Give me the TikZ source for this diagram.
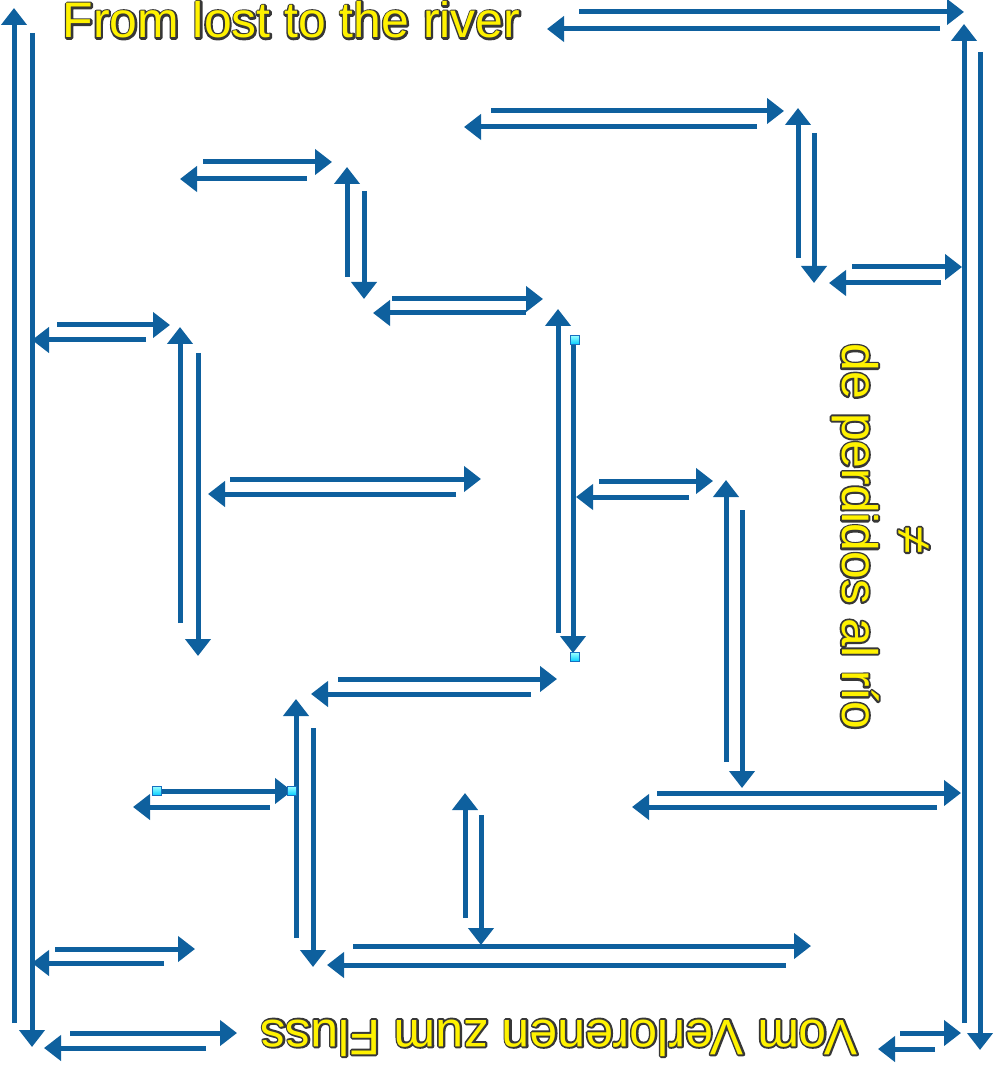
\documentclass[tikz,border=0pt]{standalone}
\usepackage{fontspec}
\setmainfont{Liberation Sans}
\usepackage{tikz}
\usetikzlibrary{arrows.meta}
\definecolor{mazeblue}{RGB}{14,96,158}
\definecolor{mottoline}{RGB}{55,55,55}
% yellow letters over a dark stroked copy
\newcommand{\motto}[1]{\rlap{\color{mottoline}\special{pdf:literal direct 1 Tr 1.1 w 1 j}#1\special{pdf:literal direct 0 Tr}}\textcolor{yellow}{#1}}

\begin{document}
\begin{tikzpicture}[
    x=0.1mm, y=-0.1mm,
    way/.style={line width=0.5mm, draw=mazeblue, -{Triangle[length=1.7mm,width=2.5mm]}},
    motto/.style={font=\fontsize{14.2}{17}\selectfont, inner sep=0pt},
    handle/.style={draw=cyan!50!blue, line width=0.1mm, inner sep=0pt, minimum size=0.9mm,
                   top color=cyan!40, bottom color=cyan!80!blue}
]
\useasboundingbox (0,0) rectangle (1000,1065);

% every way of the maze: start -> tip
\foreach \xa/\ya/\xb/\yb [count=\i] in {
    14/1023/14/8, 32/33/32/1047,            % outer left
    579/12/964/12, 940/29/547/29,           % top
    964/1023/964/24, 980/52/980/1050,       % outer right
    491/111/784/111, 757/127/464/127,
    798/258/798/108, 814/133/814/283,
    852/267/962/267, 941/283/829/283,
    203/162/332/162, 307/179/180/179,
    347/277/347/167, 364/191/364/299,
    392/299/543/299, 526/313/373/313,
    57/325/170/325, 146/340/32/340,
    180/623/180/327, 198/353/198/656,
    230/479/481/479, 456/494/208/494,
    558/633/558/309, 573/336/573/653,
    599/481/713/481, 689/497/576/497,
    726/762/726/480, 742/510/742/788,
    657/793/961/793, 937/807/632/807,
    338/679/557/679, 531/694/311/694,
    296/938/296/699, 313/728/313/967,
    157/791/292/791, 270/807/133/807,
    465/918/465/793, 481/815/481/945,
    353/946/811/946, 786/965/327/965,
    55/949/195/949, 164/963/32/963,
    70/1033/237/1033, 206/1048/44/1048,
    900/1033/961/1033, 935/1049/878/1049} {
  \coordinate (s\i) at (\xa,\ya);
  \coordinate (t\i) at (\xb,\yb);
  \draw[way] (s\i) -- (t\i);
}

\node[handle] (h1) at (575,340) {};
\node[handle] (h2) at (575,657) {};
\node[handle] (h3) at (157,791) {};
\node[handle] (h4) at (292,791) {};

\node[motto, anchor=base west] (en) at (62,38) {\motto{From lost to the river}};
\node[motto, anchor=base west, rotate=-90] (es) at (842,343) {\motto{de perdidos al río}};
\node[motto, rotate=-90] (neq) at (913,540) {\motto{≠}};
\node[motto, anchor=base west, rotate=180] (de) at (858,1020) {\motto{Vom Verlorenen zum Fluss}};

\end{tikzpicture}
\end{document}
